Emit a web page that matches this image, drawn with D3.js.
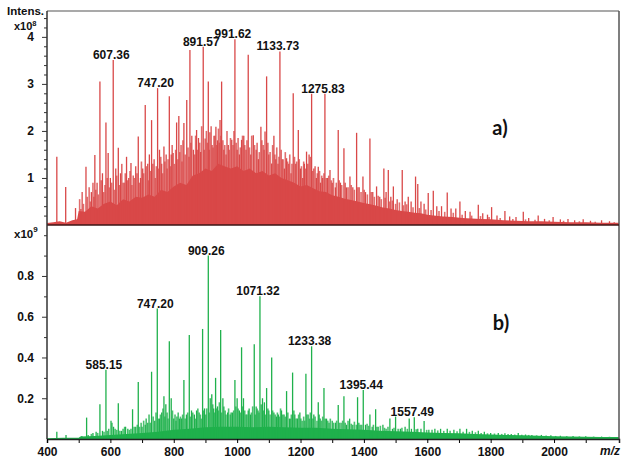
<!DOCTYPE html>
<html>
<head>
<meta charset="utf-8">
<script src="https://cdn.jsdelivr.net/npm/d3@7"></script>
<style>
  body { margin: 0; background: #fff; }
  text { font-family: "Liberation Sans", Arial, sans-serif; font-weight: bold; fill: #111; }
</style>
</head>
<body>
<div id="chart"></div>
<script>
// panel a) main peaks: [m/z, intensity x10^8]
const peaksA = [
  [431,1.45],[459,0.81],[490,0.36],[507,0.34],[523,1.24],[540,0.7],[551,1.49],[558,0.9],[567,3.05],[575,1.1],
  [586,2.18],[593,1.53],[600,1.0],[609,3.51],[617,1.2],[625,1.64],[632,1.1],[640,0.9],[651,1.45],[658,1.0],
  [665,1.32],[672,1.05],[680,1.25],[688,1.88],[695,1.0],[702,1.2],[710,2.55],[718,1.3],[723,1.5],[730,2.23],
  [738,1.4],[749,2.91],[755,1.6],[762,1.3],[769,1.67],[776,1.5],[786,2.74],[792,1.5],[798,1.53],[809,2.18],
  [816,2.32],[823,1.7],[832,2.17],[841,2.66],[851,3.72],[857,1.9],[862,1.6],[872,2.02],[878,1.85],[885,1.55],
  [893,3.79],[899,1.84],[909,3.05],[914,1.97],[921,1.7],[927,1.9],[933,2.09],[938,1.8],[946,2.23],[951,3.05],
  [958,1.6],[965,1.5],[972,1.7],[983,1.81],[993,3.95],[1000,1.6],[1007,1.5],[1014,1.81],[1021,1.9],[1028,1.6],
  [1035,3.62],[1043,1.5],[1051,1.91],[1060,1.6],[1067,1.4],[1075,2.09],[1082,1.7],[1088,1.99],[1093,3.16],[1100,1.5],
  [1109,1.31],[1116,1.9],[1122,1.4],[1129,1.3],[1135,3.69],[1142,1.4],[1149,1.2],[1156,1.42],[1163,1.3],[1170,1.1],
  [1177,2.8],[1185,1.3],[1193,2.02],[1200,1.2],[1207,1.0],[1212,1.3],[1219,1.56],[1227,1.5],[1235,2.79],[1242,1.2],
  [1250,1.0],[1256,1.24],[1263,0.9],[1270,1.0],[1277,2.79],[1285,1.0],[1293,1.17],[1300,0.9],[1310,0.8],[1319,2.02],
  [1326,0.9],[1337,1.63],[1345,0.8],[1356,1.03],[1365,0.8],[1377,1.96],[1385,0.8],[1397,1.03],[1405,0.7],[1419,1.84],
  [1428,0.7],[1440,0.82],[1450,0.6],[1463,1.2],[1470,0.7],[1477,1.17],[1485,0.6],[1493,0.82],[1505,0.55],[1521,1.17],
  [1530,0.5],[1540,0.6],[1549,0.5],[1563,1.03],[1570,0.87],[1580,0.5],[1590,0.45],[1603,0.68],[1619,0.73],[1630,0.4],
  [1645,0.4],[1663,0.69],[1675,0.35],[1690,0.35],[1703,0.5],[1720,0.3],[1735,0.28],[1761,0.43],[1775,0.25],[1790,0.22],
  [1803,0.38],[1820,0.2],[1845,0.3],[1860,0.18],[1880,0.17],[1903,0.28],[1920,0.15],[1950,0.2],[1970,0.13],[1997,0.17],
  [2020,0.12],[2044,0.13],[2065,0.1],[2092,0.12],[2115,0.09],[2150,0.1],[2175,0.08]
];
// panel a) dense small peaks between the main ones
const forestA = [
  [503,0.55],[511,0.7],[515,0.45],[527,0.6],[533,0.8],[537,0.5],[545,0.9],[548,0.6],[554,0.75],[562,0.65],
  [571,0.95],[579,0.7],[583,0.85],[590,1.0],[597,0.8],[604,0.9],[613,0.75],[620,1.05],[628,0.85],[636,1.3],
  [644,0.9],[647,1.1],[655,0.95],[662,1.15],[668,0.85],[676,1.0],[684,1.1],[691,0.9],[698,1.35],[705,1.1],
  [714,1.25],[721,0.95],[727,1.15],[734,1.3],[742,1.0],[745,1.25],[752,1.2],[759,1.45],[765,1.1],[772,1.35],
  [779,1.2],[782,1.4],[789,1.25],[795,1.7],[802,1.3],[806,1.6],[813,1.4],[819,1.55],[826,1.35],[829,1.8],
  [836,1.5],[845,1.65],[848,1.45],[854,1.75],[866,1.5],[869,1.9],[875,1.6],[882,1.75],[888,2.1],[896,1.6],
  [903,2.0],[906,1.75],[912,1.6],[918,2.1],[924,1.65],[930,1.9],[936,1.7],[941,2.05],[944,1.75],[949,1.9],
  [955,1.8],[961,1.7],[968,2.0],[975,1.6],[979,1.85],[987,1.7],[990,2.0],[997,1.75],[1003,1.85],[1010,1.65],
  [1017,1.9],[1024,1.7],[1031,1.8],[1039,1.65],[1046,1.9],[1055,1.7],[1063,1.75],[1070,1.55],[1078,1.8],[1085,1.6],
  [1097,1.75],[1104,1.55],[1112,1.7],[1119,1.5],[1125,1.65],[1132,1.45],[1139,1.6],[1145,1.4],[1152,1.55],[1159,1.35],
  [1166,1.5],[1173,1.3],[1181,1.45],[1188,1.35],[1196,1.4],[1203,1.25],[1210,1.35],[1216,1.2],[1223,1.3],[1231,1.45],
  [1238,1.15],[1246,1.25],[1253,1.1],[1260,1.15],[1267,1.05],[1274,1.1],[1281,1.0],[1289,1.05],[1297,0.95],[1304,1.0],
  [1313,0.9],[1322,0.95],[1330,0.85],[1341,0.9],[1350,0.8],[1360,0.85],[1370,0.75],[1381,0.8],[1391,0.7],[1401,0.75],
  [1411,0.65],[1423,0.7],[1433,0.6],[1445,0.62],[1455,0.55],[1467,0.58],[1481,0.5],[1490,0.52],[1500,0.45],[1512,0.48],
  [1525,0.42],[1535,0.44],[1555,0.38],[1575,0.36],[1595,0.33],[1612,0.32],[1637,0.3],[1655,0.28],[1682,0.26],[1710,0.22],
  [1740,0.2],[1768,0.19],[1795,0.17],[1830,0.15],[1870,0.13],[1910,0.12],[1940,0.11],[1985,0.1],[2030,0.09],[2080,0.08],
  [2130,0.07],[2190,0.06]
];
// panel a) solid baseline envelope
const floorA = [
  [400,0.04],[420,0.06],[440,0.08],[460,0.05],[480,0.1],[495,0.12],[500,0.3],[520,0.28],[540,0.4],[560,0.35],
  [580,0.45],[600,0.5],[620,0.42],[640,0.55],[660,0.5],[680,0.6],[700,0.58],[720,0.65],[740,0.6],[760,0.75],
  [780,0.7],[800,0.82],[820,0.9],[840,0.85],[860,1.05],[880,1.1],[900,1.2],[920,1.15],[940,1.3],[960,1.25],
  [980,1.2],[1000,1.25],[1020,1.15],[1040,1.2],[1060,1.1],[1080,1.15],[1100,1.05],[1120,1.1],[1140,1.0],[1160,0.95],
  [1180,0.9],[1200,0.82],[1220,0.85],[1240,0.78],[1260,0.72],[1280,0.7],[1300,0.63],[1320,0.6],[1340,0.56],[1360,0.53],
  [1380,0.5],[1400,0.47],[1420,0.44],[1440,0.41],[1460,0.37],[1480,0.35],[1500,0.32],[1520,0.3],[1540,0.28],[1560,0.26],
  [1580,0.25],[1600,0.22],[1620,0.2],[1650,0.18],[1680,0.17],[1710,0.15],[1740,0.14],[1770,0.13],[1800,0.12],[1840,0.1],
  [1880,0.09],[1920,0.08],[1960,0.08],[2000,0.07],[2050,0.06],[2100,0.06],[2150,0.05],[2205,0.05]
];
const labelsA = ["607.36","747.20","891.57","991.62","1133.73","1275.83"];

// panel b) main peaks: [m/z, intensity x10^9]
const peaksB = [
  [431,0.036],[460,0.02],[510,0.015],[525,0.105],[545,0.03],[555,0.035],[567,0.17],[575,0.04],[586,0.34],[595,0.05],
  [602,0.09],[610,0.06],[625,0.175],[635,0.04],[648,0.06],[655,0.05],[670,0.146],[680,0.06],[688,0.28],[700,0.06],
  [710,0.07],[718,0.08],[730,0.33],[740,0.09],[748,0.64],[755,0.1],[762,0.13],[769,0.21],[775,0.17],[786,0.48],
  [792,0.2],[800,0.1],[810,0.11],[818,0.1],[825,0.1],[832,0.29],[840,0.12],[849,0.51],[856,0.14],[865,0.12],
  [872,0.14],[880,0.13],[891,0.54],[897,0.15],[909,0.9],[915,0.2],[920,0.22],[926,0.15],[932,0.3],[938,0.16],
  [948,0.535],[955,0.2],[962,0.14],[970,0.13],[978,0.12],[985,0.13],[993,0.29],[1000,0.2],[1007,0.14],[1014,0.45],
  [1020,0.2],[1028,0.12],[1035,0.14],[1042,0.12],[1054,0.465],[1060,0.16],[1066,0.14],[1072,0.70],[1080,0.2],[1086,0.18],
  [1093,0.25],[1100,0.14],[1109,0.40],[1116,0.13],[1124,0.11],[1130,0.12],[1140,0.14],[1148,0.12],[1156,0.235],[1165,0.1],
  [1175,0.326],[1182,0.12],[1190,0.1],[1198,0.13],[1205,0.09],[1217,0.32],[1224,0.12],[1235,0.455],[1242,0.12],[1256,0.18],
  [1262,0.1],[1274,0.25],[1282,0.1],[1290,0.08],[1300,0.09],[1310,0.08],[1319,0.167],[1328,0.08],[1337,0.21],[1345,0.07],
  [1355,0.1],[1365,0.07],[1380,0.205],[1388,0.07],[1398,0.24],[1405,0.07],[1419,0.12],[1426,0.06],[1437,0.146],[1445,0.06],
  [1460,0.07],[1470,0.05],[1482,0.1],[1490,0.05],[1500,0.11],[1515,0.05],[1530,0.06],[1543,0.1],[1550,0.05],[1559,0.107],
  [1570,0.05],[1590,0.088],[1605,0.045],[1624,0.05],[1642,0.05],[1663,0.05],[1684,0.045],[1703,0.05],[1724,0.05],[1742,0.04],
  [1761,0.04],[1780,0.035],[1800,0.03],[1824,0.03],[1845,0.028],[1865,0.025],[1887,0.03],[1910,0.022],[1930,0.02],[1960,0.02],
  [1990,0.018],[2020,0.016],[2060,0.015],[2100,0.014],[2150,0.012]
];
const forestB = [
  [530,0.02],[540,0.025],[560,0.03],[580,0.035],[590,0.04],[605,0.08],[615,0.05],[620,0.045],[630,0.04],[640,0.05],
  [645,0.06],[660,0.045],[665,0.05],[675,0.06],[685,0.07],[692,0.06],[697,0.08],[705,0.09],[713,0.1],[722,0.12],
  [726,0.08],[735,0.11],[744,0.13],[752,0.1],[758,0.12],[766,0.15],[772,0.11],[779,0.13],[782,0.1],[796,0.14],
  [804,0.12],[807,0.09],[814,0.13],[821,0.11],[828,0.12],[836,0.1],[844,0.13],[852,0.11],[860,0.13],[868,0.1],
  [876,0.15],[884,0.12],[887,0.1],[894,0.14],[901,0.12],[904,0.15],[912,0.13],[923,0.17],[929,0.13],[935,0.15],
  [941,0.14],[944,0.18],[951,0.13],[958,0.16],[965,0.12],[973,0.15],[981,0.13],[989,0.14],[996,0.16],[1003,0.15],
  [1010,0.13],[1017,0.16],[1024,0.14],[1031,0.12],[1038,0.15],[1045,0.13],[1049,0.16],[1057,0.12],[1063,0.15],[1069,0.13],
  [1076,0.17],[1083,0.14],[1090,0.12],[1097,0.15],[1104,0.12],[1112,0.14],[1120,0.12],[1127,0.13],[1134,0.11],[1137,0.15],
  [1144,0.12],[1152,0.11],[1160,0.13],[1168,0.1],[1171,0.12],[1179,0.14],[1186,0.1],[1194,0.12],[1201,0.1],[1210,0.11],
  [1213,0.09],[1220,0.12],[1228,0.1],[1231,0.13],[1239,0.1],[1246,0.11],[1252,0.09],[1259,0.12],[1266,0.09],[1270,0.11],
  [1278,0.1],[1286,0.09],[1294,0.1],[1304,0.08],[1314,0.09],[1323,0.08],[1333,0.09],[1341,0.08],[1350,0.09],[1360,0.075],
  [1370,0.085],[1376,0.07],[1384,0.08],[1393,0.07],[1410,0.075],[1415,0.065],[1430,0.07],[1441,0.06],[1452,0.065],[1465,0.055],
  [1476,0.06],[1495,0.055],[1508,0.05],[1520,0.055],[1537,0.05],[1565,0.048],[1580,0.05],[1598,0.045],[1615,0.045],[1633,0.042],
  [1652,0.04],[1672,0.04],[1694,0.038],[1713,0.036],[1733,0.035],[1752,0.033],[1770,0.03],[1790,0.028],[1812,0.027],[1835,0.025],
  [1855,0.024],[1876,0.022],[1898,0.021],[1920,0.02],[1945,0.018],[1975,0.017],[2005,0.015],[2040,0.014],[2080,0.013],[2125,0.012],
  [2175,0.011]
];
const floorB = [
  [400,0.004],[450,0.006],[500,0.006],[505,0.012],[550,0.015],[600,0.02],[650,0.025],[700,0.03],[750,0.035],[800,0.045],
  [850,0.05],[900,0.058],[950,0.06],[1000,0.06],[1050,0.058],[1100,0.06],[1150,0.058],[1200,0.055],[1250,0.055],[1300,0.05],
  [1350,0.048],[1400,0.045],[1450,0.04],[1500,0.038],[1550,0.035],[1600,0.032],[1650,0.03],[1700,0.028],[1750,0.025],[1800,0.022],
  [1850,0.02],[1900,0.018],[1950,0.016],[2000,0.014],[2050,0.012],[2100,0.011],[2150,0.01],[2205,0.01]
];
const labelsB = ["585.15","747.20","909.26","1071.32","1233.38","1395.44","1557.49"];

const xTicksMajor = [400,600,800,1000,1200,1400,1600,1800,2000];
const xTicksMinor = [500,700,900,1100,1300,1500,1700,1900,2100];
const yTicksA = [1,2,3,4];
const yTicksB = [0.2,0.4,0.6,0.8];

const width = 629, height = 464;
const redCol = "#d94848", greenCol = "#1fb14c";

const svg = d3.select("#chart").append("svg")
  .attr("width", width).attr("height", height);

const x = d3.scaleLinear().domain([400, 2205]).range([47, 619]);
const yA = d3.scaleLinear().domain([0, 4.55]).range([225, 11]);
const yB = d3.scaleLinear().domain([0, 1.055]).range([439, 224]);

function drawSticks(g, data, y, col, w, op) {
  g.append("g").selectAll("line")
    .data(data)
    .join("line")
      .attr("x1", d => x(d[0])).attr("x2", d => x(d[0]))
      .attr("y1", y(0)).attr("y2", d => y(d[1]))
      .attr("stroke", col)
      .attr("stroke-opacity", op)
      .attr("stroke-width", w);
}

function drawSpectrum(peaks, forest, floor, y, col) {
  const g = svg.append("g");
  drawSticks(g, forest, y, col, 1.6, 0.8);
  g.append("path")
    .datum(floor)
    .attr("fill", col)
    .attr("d", d3.area().x(d => x(d[0])).y0(y(0)).y1(d => y(d[1])));
  drawSticks(g, peaks, y, col, 1.3, 1);
}

function nearest(peaks, v) {
  return peaks.reduce((a, b) => Math.abs(b[0] - v) < Math.abs(a[0] - v) ? b : a);
}

function drawLabels(labels, peaks, y) {
  svg.append("g").selectAll("text")
    .data(labels)
    .join("text")
      .attr("text-anchor", "middle")
      .attr("font-size", 12)
      .attr("x", d => x(nearest(peaks, +d)[0]) - 2)
      .attr("y", d => y(nearest(peaks, +d)[1]) - 1)
      .text(d => d);
}

drawSpectrum(peaksA, forestA, floorA, yA, redCol);
drawSpectrum(peaksB, forestB, floorB, yB, greenCol);

// frame
svg.append("line").attr("x1", 47).attr("x2", 619).attr("y1", 11).attr("y2", 11)
  .attr("stroke", "#8c8c8c").attr("stroke-width", 1.5);
svg.append("line").attr("x1", 619).attr("x2", 619).attr("y1", 11).attr("y2", 439)
  .attr("stroke", "#555").attr("stroke-width", 1.5);
svg.append("line").attr("x1", 47).attr("x2", 619).attr("y1", yA(0)).attr("y2", yA(0))
  .attr("stroke", "#3b1414").attr("stroke-width", 1.5);

// y axes
function yAxis(y, minor, major, fmt) {
  svg.append("g")
    .attr("transform", "translate(47,0)")
    .call(d3.axisLeft(y).tickValues(minor).tickSize(3).tickFormat(""))
    .call(g => g.select(".domain").remove())
    .selectAll("line").attr("stroke", "#333");
  const g = svg.append("g")
    .attr("transform", "translate(47,0)")
    .call(d3.axisLeft(y).tickValues(major).tickSize(5).tickPadding(8).tickFormat(fmt));
  g.select(".domain").remove();
  g.selectAll("line").attr("stroke", "#333");
  g.selectAll("text").attr("font-size", 12).attr("fill", "#111")
    .style("font-family", "Liberation Sans, Arial, sans-serif").style("font-weight", "bold");
}
yAxis(yA, d3.range(1, 23).map(i => i * 0.2).filter(v => !yTicksA.some(t => Math.abs(t - v) < 1e-6)),
  yTicksA, d3.format("d"));
yAxis(yB, d3.range(1, 11).map(i => i * 0.1).filter(v => !yTicksB.some(t => Math.abs(t - v) < 1e-6)),
  yTicksB, d3.format(".1f"));
svg.append("line").attr("x1", 47).attr("x2", 47).attr("y1", 11).attr("y2", 439)
  .attr("stroke", "#333").attr("stroke-width", 1.5);

// x axis
const xMin = svg.append("g").attr("transform", "translate(0,439)")
  .call(d3.axisBottom(x).tickValues(xTicksMinor).tickSize(4).tickFormat(""));
xMin.select(".domain").remove();
const xg = svg.append("g").attr("transform", "translate(0,439)")
  .call(d3.axisBottom(x).tickValues(xTicksMajor).tickSize(4).tickPadding(4).tickFormat(d3.format("d")));
xg.select(".domain").attr("stroke", "#222").attr("stroke-width", 1.5);
xg.selectAll("text").attr("font-size", 12).attr("fill", "#111")
  .style("font-family", "Liberation Sans, Arial, sans-serif").style("font-weight", "bold");

// labels
drawLabels(labelsA, peaksA, yA);
drawLabels(labelsB, peaksB, yB);

svg.append("text").attr("x", 7).attr("y", 15).attr("font-size", 11.5).text("Intens.");
const e8 = svg.append("text").attr("x", 14).attr("y", 30).attr("font-size", 11);
e8.append("tspan").text("x10");
e8.append("tspan").attr("dy", -4).attr("font-size", 7.5).text("8");
const e9 = svg.append("text").attr("x", 14).attr("y", 238).attr("font-size", 11.5);
e9.append("tspan").text("x10");
e9.append("tspan").attr("dy", -6).attr("font-size", 8).text("9");

svg.append("text").attr("x", 500).attr("y", 135).attr("text-anchor", "middle")
  .attr("font-size", 20).style("font-family", "Lato, 'Open Sans', sans-serif").text("a)");
svg.append("text").attr("x", 501).attr("y", 330).attr("text-anchor", "middle")
  .attr("font-size", 20).style("font-family", "Lato, 'Open Sans', sans-serif").text("b)");
svg.append("text").attr("x", 610).attr("y", 455).attr("text-anchor", "middle")
  .attr("font-size", 12).attr("font-style", "italic").text("m/z");
</script>
</body>
</html>
